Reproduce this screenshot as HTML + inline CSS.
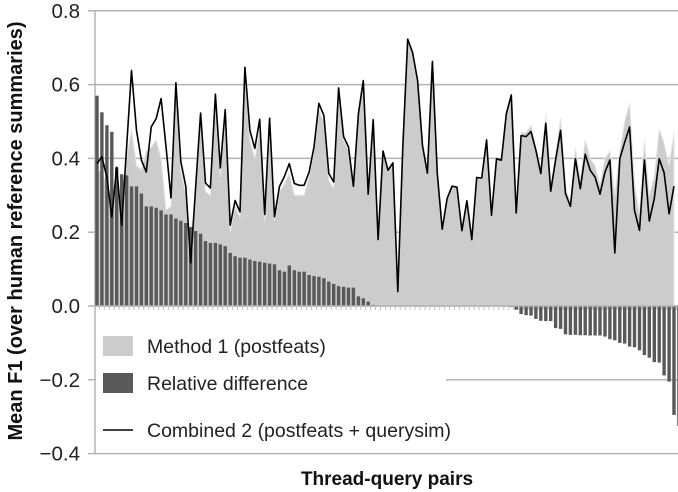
<!DOCTYPE html>
<html><head><meta charset="utf-8">
<style>
body{margin:0;background:#fff;}
svg{display:block;font-family:"Liberation Sans",Arial,sans-serif;}
</style></head>
<body>
<svg id="chart" width="678" height="492" viewBox="0 0 678 492"></svg>
<script>
const yTicks = [0.8, 0.6, 0.4, 0.2, 0.0, -0.2, -0.4];
const yTickLabels = ["0.8","0.6","0.4","0.2","0.0","\u22120.2","\u22120.4"];
const combined = [.386,.404,.349,.241,.376,.219,.43,.638,.476,.395,.363,.485,.508,.562,.432,.293,.605,.392,.324,.117,.32,.523,.333,.320,.574,.374,.532,.219,.286,.255,.647,.476,.427,.506,.248,.509,.242,.324,.351,.386,
.332,.327,.327,.363,.431,.549,.516,.359,.336,.591,.459,.431,.324,.521,.611,.303,.505,.180,.42,.368,.388,.039,.431,.723,.687,.611,.435,.36,.663,.359,.208,.291,.325,.322,.204,.285,.180,.348,.347,
.45,.246,.399,.395,.521,.572,.252,.462,.459,.473,.422,.359,.495,.311,.396,.476,.305,.27,.399,.318,.411,.368,.349,.303,.363,.396,.144,.399,.444,.485,.259,.205,.396,.23,.291,.399,.361,.25,.325];
const method1 = [.37,.36,.33,.24,.35,.22,.40,.48,.38,.37,.42,.43,.45,.40,.26,.27,.58,.37,.30,.11,.30,.50,.31,.30,.55,.35,.51,.20,.27,.24,.62,.45,.40,.48,.23,.48,.23,.31,.33,.36,
.30,.30,.30,.35,.42,.53,.50,.34,.32,.58,.45,.42,.32,.52,.61,.30,.505,.180,.42,.368,.388,.039,.431,.723,.687,.611,.435,.36,.663,.359,.208,.291,.325,.322,.204,.285,.180,.348,.347,
.45,.246,.399,.395,.521,.572,.252,.47,.47,.49,.43,.37,.52,.32,.41,.51,.32,.28,.43,.34,.45,.40,.38,.33,.40,.42,.30,.42,.50,.55,.33,.25,.45,.30,.35,.48,.44,.38,.47];
const relDiff = [.57,.525,.49,.472,.376,.357,.354,.324,.324,.305,.27,.27,.266,.259,.248,.248,.237,.231,.225,.214,.203,.196,.176,.171,.171,.167,.162,.144,.135,.131,.131,.126,.122,.12,.117,.115,.113,.097,.093,
.11,.097,.093,.093,.084,.081,.079,.075,.066,.06,.054,.052,.05,.05,.026,.021,.012,.003,
0,0,0,0,0,0,0,0,0,0,0,0,0,0,0,0,0,0,0,0,0,0,0,0,0,0,0,
-.003,-.01,-.022,-.025,-.026,-.035,-.04,-.041,-.041,-.06,-.062,-.077,-.078,-.078,-.079,-.079,-.08,-.08,-.08,-.083,-.09,-.093,-.10,-.102,-.11,-.112,-.12,-.133,-.14,-.152,-.153,-.188,-.205,-.295,-.325];

const NS="http://www.w3.org/2000/svg";
const svg=document.getElementById('chart');
const Y0=306, K=369, X0=97, X1=674;
const n=combined.length;
function yS(v){return Y0-v*K;}
function xS(i){return X0+i*(X1-X0)/(n-1);}
function mk(tag,attrs,parent){const e=document.createElementNS(NS,tag);for(const k in attrs)e.setAttribute(k,attrs[k]);(parent||svg).appendChild(e);return e;}

yTicks.forEach((t,i)=>{
  const g=mk('line',{x1:88,x2:678,y1:yS(t),y2:yS(t),stroke:'#b3b3b3','stroke-width':1.5});
  
  
  const tx=mk('text',{x:80,y:yS(t)+7,'text-anchor':'end','font-size':20.5,fill:'#222'});
  tx.textContent=yTickLabels[i];
  
  
});
const ax=mk('line',{x1:95,x2:95,y1:yS(0.8),y2:yS(-0.4),stroke:'#b3b3b3','stroke-width':1.5});



let d='M'+xS(0)+','+yS(0);
method1.forEach((v,i)=>{d+=' L'+xS(i).toFixed(1)+','+yS(v).toFixed(1);});
d+=' L'+xS(n-1)+','+yS(0)+' Z';
const area=mk('path',{d:d,fill:'#cccccc',stroke:'#e6e6e6','stroke-width':1});



relDiff.forEach((v,i)=>{
  const y=Math.min(yS(v),Y0), h=Math.abs(yS(v)-Y0);
  const b=mk('rect',{x:(xS(i)-1.7).toFixed(1),y:y.toFixed(1),width:3.4,height:Math.max(h,0).toFixed(1),fill:'#595959'});
  
  
});
const xa=mk('line',{x1:95,x2:678,y1:Y0,y2:Y0,stroke:'#b3b3b3','stroke-width':1.5});


for(let i=0;i<n;i++){
  const tk=mk('line',{x1:xS(i)+2.4,x2:xS(i)+2.4,y1:Y0,y2:Y0+4,stroke:'#c0c0c0','stroke-width':1});
  
  
}

let ld='';
combined.forEach((v,i)=>{ld+=(i?' L':'M')+xS(i).toFixed(1)+','+yS(v).toFixed(1);});
const ln=mk('path',{d:ld,fill:'none',stroke:'#000','stroke-width':1.6,'stroke-linejoin':'round'});



const lg=mk('g',{});


mk('rect',{x:96,y:316,width:350,height:136,fill:'#fff'},lg);
mk('rect',{x:103,y:336,width:30,height:20,fill:'#cccccc'},lg);
mk('rect',{x:103,y:373,width:30,height:20,fill:'#595959'},lg);
mk('line',{x1:103,x2:133,y1:430,y2:430,stroke:'#000','stroke-width':1.6},lg);
const labels=["Method 1 (postfeats)","Relative difference","Combined 2 (postfeats + querysim)"];
[353,390,437].forEach((y,i)=>{
  const t=mk('text',{x:147,y:y,'font-size':19.5,fill:'#222'},lg);
  t.textContent=labels[i];
  
  
});

const xt=mk('text',{x:387,y:485,'text-anchor':'middle','font-size':19,'font-weight':'bold',fill:'#111'});
xt.textContent='Thread-query pairs';


const yt=mk('text',{x:0,y:0,'text-anchor':'middle','font-size':20,'font-weight':'bold',fill:'#111',transform:'translate(22,231) rotate(-90)'});
yt.textContent='Mean F1 (over human reference summaries)';


</script>
</body></html>
